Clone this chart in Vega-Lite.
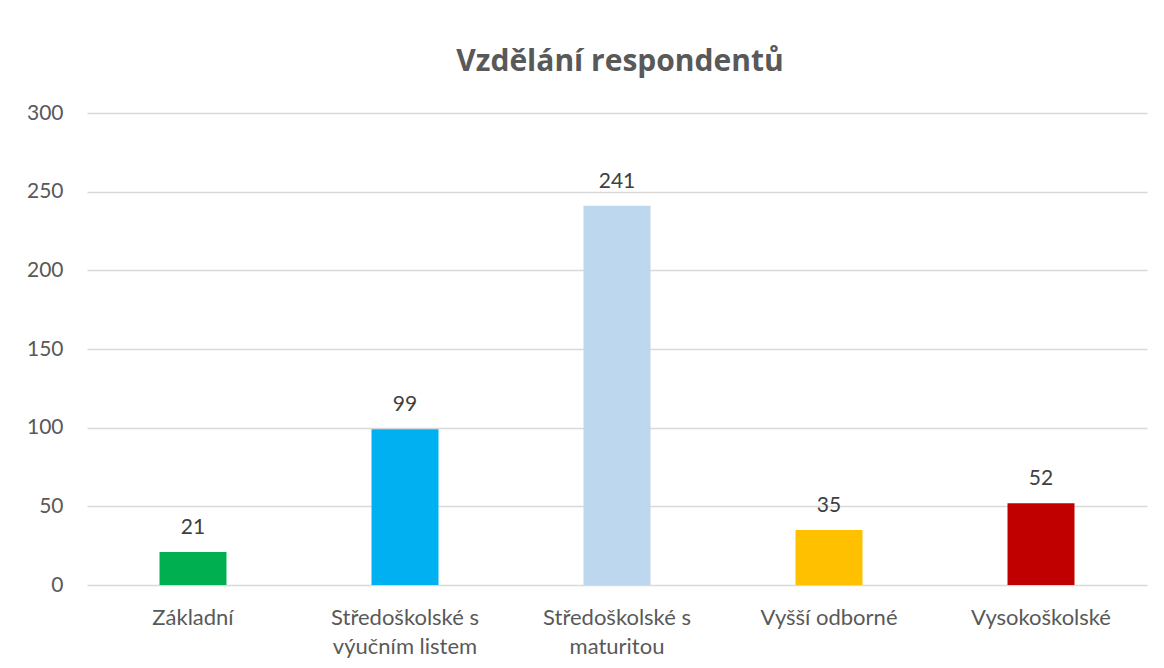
{
  "$schema": "https://vega.github.io/schema/vega-lite/v6.json",
  "autosize": {"type": "none"},
  "width": 1060,
  "height": 472,
  "padding": {"left": 87, "top": 113, "right": 17, "bottom": 83},
  "background": "white",
  "title": {
    "text": "Vzdělání respondentů",
    "font": "Open Sans",
    "fontSize": 30,
    "fontWeight": "bold",
    "color": "#595959",
    "anchor": "middle",
    "baseline": "alphabetic",
    "offset": 1,
    "dx": 3
  },
  "data": {
    "values": [
      {"kategorie": "Základní", "pocet": 21},
      {"kategorie": "Středoškolské s výučním listem", "pocet": 99},
      {"kategorie": "Středoškolské s maturitou", "pocet": 241},
      {"kategorie": "Vyšší odborné", "pocet": 35},
      {"kategorie": "Vysokoškolské", "pocet": 52}
    ]
  },
  "encoding": {
    "x": {
      "field": "kategorie",
      "type": "nominal",
      "sort": null,
      "scale": {"paddingInner": 0.684, "paddingOuter": 0.342},
      "axis": {
        "title": null,
        "labelAngle": 0,
        "labelFont": "Lato",
        "labelFontSize": 22,
        "labelColor": "#595959",
        "labelLineHeight": 29,
        "labelBaseline": "top",
        "labelPadding": 22,
        "ticks": false,
        "domain": false,
        "grid": false,
        "labelExpr": "datum.value == 'Středoškolské s výučním listem' ? ['Středoškolské s', 'výučním listem'] : datum.value == 'Středoškolské s maturitou' ? ['Středoškolské s', 'maturitou'] : datum.value"
      }
    },
    "y": {
      "field": "pocet",
      "type": "quantitative",
      "scale": {"domain": [0, 300], "nice": false},
      "axis": {
        "title": null,
        "values": [0, 50, 100, 150, 200, 250, 300],
        "labelFont": "Lato",
        "labelFontSize": 21,
        "labelColor": "#595959",
        "labelPadding": 24,
        "ticks": false,
        "domain": false,
        "grid": true,
        "gridColor": "#D9D9D9",
        "gridWidth": 1.5
      }
    }
  },
  "layer": [
    {
      "mark": {"type": "bar"},
      "encoding": {
        "color": {
          "field": "kategorie",
          "type": "nominal",
          "scale": {
            "domain": ["Základní", "Středoškolské s výučním listem", "Středoškolské s maturitou", "Vyšší odborné", "Vysokoškolské"],
            "range": ["#00B050", "#00B0F0", "#BDD7EE", "#FFC000", "#C00000"]
          },
          "legend": null
        }
      }
    },
    {
      "mark": {"type": "text", "font": "Lato", "fontSize": 21, "color": "#404040", "baseline": "alphabetic", "dy": -18},
      "encoding": {
        "text": {"field": "pocet", "type": "quantitative"}
      }
    }
  ],
  "config": {
    "view": {"stroke": null}
  }
}
